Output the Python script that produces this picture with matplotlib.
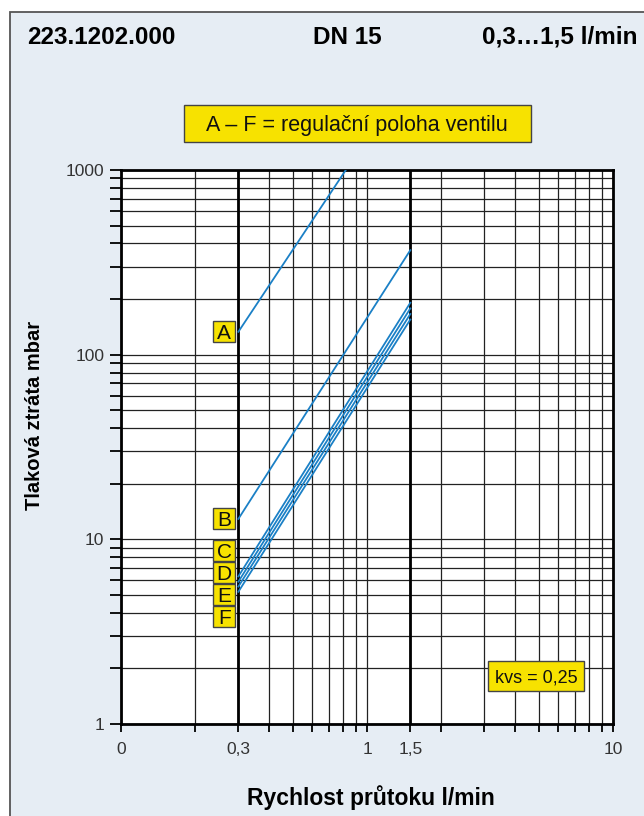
from matplotlib import pyplot as plt
from matplotlib.patches import Rectangle
from matplotlib.transforms import IdentityTransform
from matplotlib.ticker import FixedLocator, FixedFormatter, NullFormatter

# pressure loss lines (l/min -> mbar)
flow_a = [0.3, 0.82]
loss_a = [133, 1000]
flow_bf = [0.3, 1.5]
loss_b = [12.9, 368]
loss_c = [6.3, 191]
loss_d = [5.9, 178]
loss_e = [5.55, 166]
loss_f = [5.2, 155]

positions = ["A", "B", "C", "D", "E", "F"]

x_ticks = [0.1, 0.3, 1, 1.5, 10]
x_tick_labels = ["0", "0,3", "1", "1,5", "10"]
y_ticks = [1, 10, 100, 1000]
y_tick_labels = ["1", "10", "100", "1000"]

# where the letter boxes sit (layout only)
label_x = 0.263
label_y = [133, 12.9, 8.65, 6.6, 5.0, 3.8]

BG = "#e6edf4"
YELLOW = "#f7e200"
BLUE = "#1b80c6"
FONT = "Liberation Sans"

plt.rcParams["font.family"] = [FONT, "DejaVu Sans"]

W, H = 644, 816


def yellow_box(fig, cx, cy, w, h, text, size):
    # box in output pixels, origin bottom left
    fig.add_artist(Rectangle((cx - w / 2, cy - h / 2), w, h, transform=IdentityTransform(),
                             facecolor=YELLOW, edgecolor="#444444", lw=1.0, zorder=5))
    fig.text(cx / W, cy / H, text, ha="center", va="center_baseline", fontsize=size,
             color="#111111", zorder=6)


def main():
    fig = plt.figure(figsize=(W / 100, H / 100), dpi=100)
    fig.add_artist(Rectangle((10, -10), W + 10, H - 12 + 10, transform=IdentityTransform(),
                             facecolor=BG, edgecolor="#555555", lw=1.3, zorder=0))

    fig.text(27 / W, 1 - 37 / H, "223.1202.000", ha="left", va="center", fontsize=17.5, fontweight="bold")
    fig.text(347 / W, 1 - 37 / H, "DN 15", ha="center", va="center", fontsize=17.5, fontweight="bold")
    fig.text(638 / W, 1 - 37 / H, "0,3…1,5 l/min", ha="right", va="center", fontsize=17.5, fontweight="bold")

    ax = fig.add_axes([121 / W, 1 - 724 / H, (613 - 121) / W, (724 - 170) / H])
    ax.set_facecolor("white")
    ax.set_xscale("log")
    ax.set_yscale("log")
    ax.set_xlim(0.1, 10)
    ax.set_ylim(1, 1000)

    x_minor = [m * d for d in (0.1, 1) for m in range(2, 10) if not (d == 0.1 and m == 3)]
    y_minor = [m * d for d in (1, 10, 100) for m in range(2, 10)]
    ax.xaxis.set_major_locator(FixedLocator(x_ticks))
    ax.xaxis.set_major_formatter(FixedFormatter(x_tick_labels))
    ax.xaxis.set_minor_locator(FixedLocator(x_minor))
    ax.xaxis.set_minor_formatter(NullFormatter())
    ax.yaxis.set_major_locator(FixedLocator(y_ticks))
    ax.yaxis.set_major_formatter(FixedFormatter(y_tick_labels))
    ax.yaxis.set_minor_locator(FixedLocator(y_minor))
    ax.yaxis.set_minor_formatter(NullFormatter())

    ax.grid(True, which="both", color="#222222", lw=0.9)
    ax.set_axisbelow(True)
    for q in (0.3, 1.5):
        ax.axvline(q, color="black", lw=2.0, zorder=1.5)
    for s in ax.spines.values():
        s.set_linewidth(2.0)

    ax.tick_params(axis="x", which="both", direction="out", length=6, width=1.3,
                   labelsize=12.5, labelcolor="#333333", pad=7)
    ax.tick_params(axis="y", which="both", direction="out", length=8, width=1.3,
                   labelsize=12.5, labelcolor="#333333", pad=4)

    for loss in (loss_b, loss_c, loss_d, loss_e, loss_f):
        ax.plot(flow_bf, loss, color=BLUE, lw=1.3, zorder=3)
    ax.plot(flow_a, loss_a, color=BLUE, lw=1.3, zorder=3)

    ax.set_xlabel("Rychlost průtoku l/min", fontsize=16.5, fontweight="bold")
    ax.xaxis.set_label_coords((371 - 121) / 492, (724 - 785) / 554)
    ax.set_ylabel("Tlaková ztráta mbar", fontsize=14.5, fontweight="bold")
    ax.yaxis.set_label_coords((44 - 121) / 492, (724 - 415) / 554)

    # letter boxes A-F
    for letter, y in zip(positions, label_y):
        cx, cy = ax.transData.transform((label_x, y))
        yellow_box(fig, cx, cy, 22, 21, letter, 15)

    yellow_box(fig, 357, H - 123, 347, 37, "A – F = regulační poloha ventilu", 15.5)
    yellow_box(fig, 536, H - 676, 96, 30, "kvs = 0,25", 13)

    fig.savefig("out.png", dpi=100)


if __name__ == "__main__":
    main()
